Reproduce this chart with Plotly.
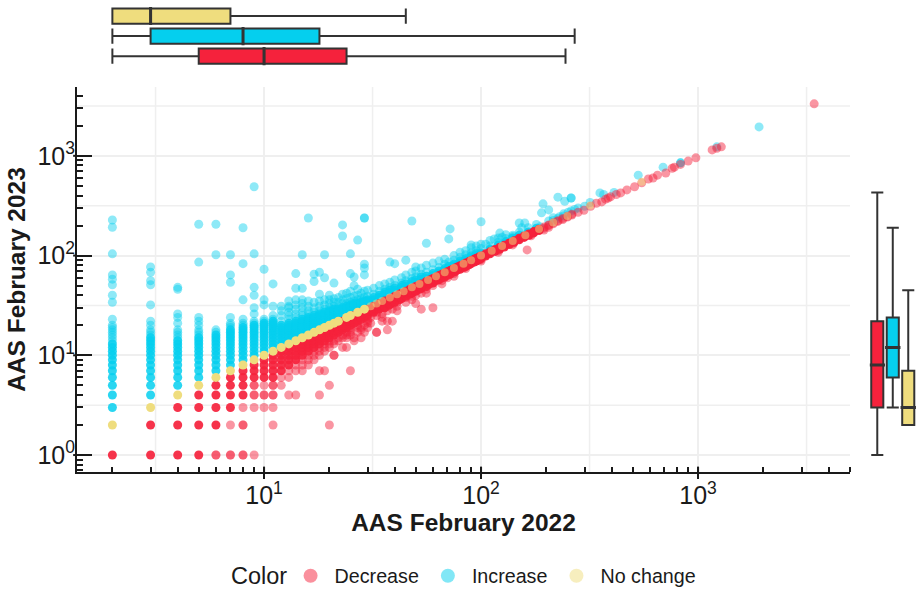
import plotly.graph_objects as go

# ---- Scatter values: {AAS 2022: [AAS 2023, ...]} ----
increase_dense = {
    2: [3, 4, 5, 6, 7, 8, 9, 10, 11, 12, 13],
    3: [4, 5, 6, 7, 8, 9, 10, 11, 12, 13, 14, 15],
    4: [5, 6, 7, 8, 9, 10, 11, 12, 13, 14],
    5: [6, 7, 8, 9, 10, 11, 12, 13, 14, 15],
    6: [7, 8, 9, 10, 11, 12, 13, 14, 15, 16],
    7: [8, 9, 10, 11, 12, 13, 14, 15, 16, 17, 18],
    8: [9, 10, 11, 12, 13, 14, 15, 16, 17, 18, 19],
    9: [10, 11, 12, 13, 14, 15, 16, 17, 18, 19, 20],
    10: [11, 12, 13, 14, 15, 16, 17, 18, 19, 20, 21],
    11: [12, 13, 14, 15, 16, 17, 18, 19, 20, 21, 22],
    12: [13, 14, 15, 16, 17, 18, 19, 20],
    13: [14, 15, 16, 17, 18, 19, 20, 21],
    14: [15, 16, 17, 18, 19, 20, 21, 22],
    15: [16, 17, 18, 19, 20, 21, 22, 23],
    16: [17, 18, 19, 20, 21, 22, 23, 24],
    17: [18, 19, 20, 21, 22, 23, 24, 25],
    18: [19, 20, 21, 22, 23, 24, 25, 26],
    19: [20, 21, 22, 23, 24, 25, 26, 27],
    20: [21, 22, 23, 24, 25, 26, 27, 28],
    21: [22, 23, 24, 25, 26, 27, 28, 29],
    22: [23, 24, 25, 26, 27, 28, 29],
    23: [24, 25, 26, 27, 28, 29, 30],
    24: [25, 26, 27, 28, 29, 30, 31],
    25: [26, 27, 28, 29, 30, 31, 32],
    26: [27, 28, 29, 30, 31, 32, 33],
    27: [28, 29, 30, 31, 32, 33],
    28: [29, 30, 31, 32, 33, 34],
    29: [30, 31, 32, 33, 34, 35],
    30: [31, 32, 33, 34, 35, 36],
    32: [33, 34, 35, 36, 38],
    34: [35, 36, 37, 38, 40],
    36: [37, 38, 39, 41, 43],
    38: [39, 40, 41, 43, 45],
    40: [41, 42, 43, 45, 47],
    43: [44, 45, 46, 48, 50],
    45: [46, 47, 49, 52],
    48: [49, 50, 52, 55],
    50: [51, 52, 54, 57],
    53: [54, 56, 58, 61],
    56: [57, 59, 62],
    60: [61, 63, 66],
    64: [65, 67, 70],
    68: [69, 71, 74],
    71: [72, 75, 78],
    75: [76, 79, 82],
    80: [81, 84, 88],
    85: [86, 89, 93],
    90: [91, 95, 99],
    95: [96, 100, 104],
    100: [102, 106],
    110: [112, 116],
    120: [122, 127],
    130: [132, 138],
    140: [143, 150],
    150: [152, 160],
    165: [167, 172],
    180: [182, 188],
}
increase_light = {
    2: [14, 15, 16, 17, 18, 19, 20, 23, 34, 40, 51, 58, 64, 104, 192, 227],
    3: [16, 17, 18, 20, 22, 32, 51, 56, 68, 77],
    4: [15, 16, 17, 18, 21, 24, 26, 46, 48],
    5: [16, 17, 18, 20, 22, 24, 86, 206],
    6: [17, 18, 102, 206],
    7: [19, 20, 21, 24, 54, 64, 102],
    8: [20, 21, 23, 36, 83, 190],
    9: [21, 22, 26, 30, 40, 48, 104, 490],
    10: [22, 23, 32, 36, 73],
    11: [23, 25, 31, 52],
    12: [22, 25, 28, 31],
    13: [23, 25, 27, 30, 31, 35],
    14: [24, 26, 29, 32, 36, 47, 66],
    15: [25, 27, 30, 33, 36, 47, 102],
    16: [26, 28, 31, 35, 238],
    17: [27, 30, 34, 55, 65],
    18: [28, 31, 35, 41, 68],
    19: [29, 32, 36, 60, 102],
    20: [30, 33, 36, 40],
    21: [31, 34, 37, 53],
    22: [31, 34, 38],
    23: [33, 36, 41, 157, 203],
    24: [33, 37, 42],
    25: [34, 38, 44, 66, 104],
    26: [35, 39, 50, 61],
    27: [36, 40, 46, 143],
    28: [37, 42],
    29: [38, 44, 64, 75, 82, 238, 238],
    30: [39, 45],
    32: [41, 47],
    34: [44, 50],
    36: [46, 52],
    38: [48, 54, 86],
    40: [50, 57, 83],
    43: [53, 60],
    45: [56, 64, 90],
    48: [59, 68, 222],
    50: [61, 70, 77],
    53: [65, 75],
    56: [68, 80, 133],
    60: [72, 84],
    64: [76, 88],
    68: [82, 92],
    71: [86, 147],
    72: [185],
    75: [90, 100],
    80: [96, 108],
    85: [102, 112],
    90: [106, 120, 128],
    95: [112, 125],
    100: [118, 130, 218],
    105: [130],
    110: [125, 142],
    115: [147],
    120: [136, 150],
    122: [168],
    125: [153],
    130: [148, 162],
    140: [155, 160],
    150: [172, 212],
    154: [190],
    159: [212],
    165: [190],
    180: [205],
    187: [194],
    190: [268],
    193: [330],
    205: [287, 222],
    215: [240, 225],
    226: [385, 235],
    230: [245],
    240: [262, 250],
    243: [350],
    252: [272],
    260: [378, 378, 280],
    270: [290],
    280: [300],
    300: [312],
    318: [340],
    353: [425],
    367: [410],
    410: [430],
    530: [640],
    690: [770],
    830: [850, 850],
    1220: [1230],
    1910: [1950],
}
decrease_dense = {
    2: [1],
    3: [1, 2],
    4: [1, 2, 3],
    5: [1, 2, 3, 4],
    6: [2, 3, 4, 5],
    7: [3, 4, 5, 6],
    8: [4, 5, 6, 7],
    9: [6, 7, 8],
    10: [6, 7, 8, 9],
    11: [6, 7, 8, 9, 10],
    12: [7, 8, 9, 10, 11],
    13: [8, 9, 10, 11, 12],
    14: [9, 10, 11, 12, 13],
    15: [10, 11, 12, 13, 14],
    16: [11, 12, 13, 14, 15],
    17: [12, 13, 14, 15, 16],
    18: [13, 14, 15, 16, 17],
    19: [14, 15, 16, 17, 18],
    20: [15, 16, 17, 18, 19],
    21: [16, 17, 18, 19, 20],
    22: [17, 18, 19, 20, 21],
    23: [18, 19, 20, 21, 22],
    24: [19, 20, 21, 22, 23],
    25: [20, 21, 22, 23, 24],
    26: [21, 22, 23, 24, 25],
    27: [22, 23, 24, 25, 26],
    28: [23, 24, 25, 26, 27],
    29: [24, 25, 26, 27, 28],
    30: [25, 26, 27, 28, 29],
    32: [27, 28, 29, 30, 31],
    34: [29, 30, 31, 32, 33],
    36: [30, 31, 33, 34, 35],
    38: [32, 33, 35, 36, 37],
    40: [34, 35, 37, 38, 39],
    42: [36, 38, 39, 40, 41],
    43: [37, 38, 40, 41, 42],
    45: [39, 40, 42, 43, 44],
    47: [41, 43, 44, 45, 46],
    48: [42, 43, 45, 46, 47],
    50: [44, 45, 47, 48, 49],
    52: [46, 48, 49, 50, 51],
    53: [47, 48, 50, 51, 52],
    56: [49, 51, 53, 54, 55],
    58: [52, 54, 55, 56, 57],
    60: [53, 55, 57, 58, 59],
    62: [56, 58, 59, 60, 61],
    64: [57, 59, 61, 62, 63],
    66: [60, 62, 63, 64, 65],
    68: [61, 63, 65, 66, 67],
    70: [64, 66, 67, 68, 69],
    72: [65, 67, 69, 70, 71],
    74: [68, 70, 71, 72, 73],
    76: [69, 71, 73, 74, 75],
    78: [72, 74, 75, 76, 77],
    80: [73, 75, 77, 78, 79],
    83: [76, 78, 80, 81, 82],
    85: [78, 80, 82, 83, 84],
    88: [81, 83, 85, 86, 87],
    90: [83, 85, 87, 88, 89],
    93: [86, 88, 90, 91, 92],
    95: [88, 90, 92, 93, 94],
    98: [91, 93, 95, 96, 97],
    100: [94, 96, 98, 99],
    105: [99, 102, 104],
    110: [104, 107, 109],
    116: [110, 113, 115],
    122: [116, 119, 121],
    128: [122, 125, 127],
    135: [129, 132, 134],
    142: [136, 139, 141],
    150: [144, 147, 149],
    158: [152, 155, 157],
    166: [160, 163, 165],
    175: [169, 172, 174],
    185: [178, 182, 184],
}
decrease_light = {
    6: [1, 1],
    7: [1, 1, 2],
    8: [1, 1, 2, 2, 3],
    9: [1, 3, 4, 4, 5, 5],
    10: [3, 4, 4, 5],
    11: [2, 3, 4, 4, 5, 5],
    12: [5, 6],
    13: [4, 6, 7],
    14: [4, 7, 8],
    15: [7, 8, 9],
    16: [8, 9, 10],
    17: [9, 10, 11],
    18: [4, 7, 10, 11, 12],
    19: [7, 11, 12, 13],
    20: [2, 5, 12, 13, 14],
    21: [10, 10, 13, 14],
    22: [14, 15],
    23: [12, 15, 16],
    24: [12, 15, 16, 17],
    25: [7, 16, 17, 18, 19],
    26: [14, 15],
    27: [17, 19, 20],
    28: [15, 18, 19],
    29: [17, 20],
    30: [19, 21, 22, 23],
    31: [21, 24],
    33: [17, 17, 25, 27],
    35: [22, 24, 26],
    37: [18, 22, 28, 31],
    39: [22, 29, 33],
    41: [28, 31, 34],
    45: [34, 38],
    48: [36, 39],
    50: [33, 40, 44],
    53: [29, 42, 47],
    56: [42, 46],
    60: [30, 50, 54],
    66: [52, 56],
    70: [60, 63],
    75: [62, 66],
    85: [74, 77],
    100: [88, 91],
    120: [108, 112],
    140: [128, 133],
    163: [114],
    170: [158, 162],
    195: [180, 188, 193],
    205: [192, 200, 203],
    215: [208, 213],
    226: [220, 224],
    238: [230, 236],
    250: [243, 248],
    262: [255, 260],
    280: [272],
    298: [285],
    320: [312],
    340: [335],
    360: [345],
    375: [368],
    385: [378],
    395: [388],
    420: [410],
    440: [425],
    470: [455],
    510: [490],
    550: [536],
    590: [585],
    620: [600],
    650: [640],
    710: [672],
    760: [750],
    778: [770],
    830: [820],
    900: [885],
    977: [955],
    1161: [1146],
    1220: [1190],
    1280: [1230],
    3428: [3320],
}
nochange_dense = [2, 3, 4, 5, 6, 7, 8, 9, 10, 11, 12, 13, 14, 15, 16, 17, 18, 19,
                  20, 21, 22, 24, 25, 27, 29]
nochange_light = [31, 33, 35, 38, 41, 44, 48, 52, 57, 62, 68, 75, 83, 90, 100, 112, 125,
                  140, 160, 185, 215, 250, 318, 550]

# ---- Marginal box summaries ----
box_groups = ["Decrease", "Increase", "No change"]
box_colors = ["#F5223C", "#05CFEE", "#EFDD7E"]
x_low = [2, 2, 2]
x_q1 = [5, 3, 2]
x_median = [10, 8, 3]
x_q3 = [24, 18, 7]
x_high = [245, 270, 45]
y_low = [1, 3, 2]
y_q1 = [3, 6, 2]
y_median = [8, 12, 3]
y_q3 = [22, 24, 7]
y_high = [430, 190, 45]

# ---- Axis labels ----
decade_vals = [1, 10, 100, 1000]
x_tick_vals = [10, 100, 1000]
x_tick_text = ["10<sup>1</sup>", "10<sup>2</sup>", "10<sup>3</sup>"]
y_tick_text = ["10<sup>0</sup>", "10<sup>1</sup>", "10<sup>2</sup>", "10<sup>3</sup>"]
half_decades = [3.162, 31.62, 316.2, 3162]

INK = "#1a1a1a"
GRID = "#efefef"
FONT = "Liberation Sans"


def flatten(columns):
    xs, ys = [], []
    for key, vals in columns.items():
        for v in vals:
            xs.append(key)
            ys.append(v)
    return xs, ys


fig = go.Figure()


def add_points(columns, color, opacity):
    xs, ys = flatten(columns)
    fig.add_trace(go.Scatter(x=xs, y=ys, mode="markers", showlegend=False, hoverinfo="skip",
                             marker=dict(size=9, color=color, opacity=opacity, line=dict(width=0))))


add_points(increase_light, box_colors[1], 0.45)
add_points(increase_dense, box_colors[1], 0.85)
add_points(decrease_light, box_colors[0], 0.48)
add_points(decrease_dense, box_colors[0], 0.92)
fig.add_trace(go.Scatter(x=nochange_light, y=nochange_light, mode="markers", showlegend=False,
                         hoverinfo="skip", marker=dict(size=8, color=box_colors[2], opacity=0.5, line=dict(width=0))))
fig.add_trace(go.Scatter(x=nochange_dense, y=nochange_dense, mode="markers", showlegend=False,
                         hoverinfo="skip", marker=dict(size=9, color=box_colors[2], opacity=1, line=dict(width=0))))

# legend entries
for name, color in zip(box_groups, box_colors):
    fig.add_trace(go.Scatter(x=[None], y=[None], mode="markers", name=name,
                             marker=dict(size=14, color=color, opacity=0.5, line=dict(width=0))))

# marginal boxes
for i, (name, color) in enumerate(zip(box_groups, box_colors)):
    fig.add_trace(go.Box(orientation="h", y=[name], xaxis="x2", yaxis="y2", q1=[x_q1[i]], median=[x_median[i]],
                         q3=[x_q3[i]], lowerfence=[x_low[i]], upperfence=[x_high[i]], width=0.76, whiskerwidth=1,
                         fillcolor=color, line=dict(color="#333333", width=2), showlegend=False, hoverinfo="skip"))
    fig.add_trace(go.Scatter(x=[x_median[i]], y=[name], xaxis="x2", yaxis="y2", mode="markers", showlegend=False,
                             hoverinfo="skip", marker=dict(symbol="line-ns", size=13,
                                                            line=dict(color="#333333", width=3))))
    fig.add_trace(go.Box(x=[name], xaxis="x3", yaxis="y3", q1=[y_q1[i]], median=[y_median[i]],
                         q3=[y_q3[i]], lowerfence=[y_low[i]], upperfence=[y_high[i]], width=0.78, whiskerwidth=1,
                         fillcolor=color, line=dict(color="#333333", width=2), showlegend=False, hoverinfo="skip"))
    fig.add_trace(go.Scatter(x=[name], y=[y_median[i]], xaxis="x3", yaxis="y3", mode="markers", showlegend=False,
                             hoverinfo="skip", marker=dict(symbol="line-ew", size=11,
                                                            line=dict(color="#333333", width=3))))

shapes = []
for v in half_decades:
    shapes.append(dict(type="line", layer="below", xref="x", yref="y domain", x0=v, x1=v, y0=0, y1=1,
                       line=dict(color=GRID, width=1.5)))
    shapes.append(dict(type="line", layer="below", xref="x domain", yref="y", x0=0, x1=1, y0=v, y1=v,
                       line=dict(color=GRID, width=1.5)))
for v in x_tick_vals:
    shapes.append(dict(type="line", xref="x", yref="y domain", x0=v, x1=v, y0=0, y1=0.014,
                       line=dict(color=INK, width=2)))
for v in decade_vals:
    shapes.append(dict(type="line", xref="x domain", yref="y", x0=-0.005, x1=0, y0=v, y1=v,
                       line=dict(color=INK, width=2)))

tick_font = dict(family=FONT, size=25, color=INK)
fig.update_layout(
    width=919, height=589, margin=dict(l=77, r=2, t=5, b=117, autoexpand=False),
    paper_bgcolor="white", plot_bgcolor="white",
    font=dict(family=FONT, color=INK),
    shapes=shapes, boxmode="overlay",
    xaxis=dict(type="log", range=[0.138, 3.70], domain=[0, 0.9202], anchor="y",
               tickmode="array", tickvals=x_tick_vals, ticktext=x_tick_text, tickfont=tick_font,
               ticks="outside", ticklen=5, tickwidth=2, tickcolor=INK, ticklabelstandoff=-5,
               minor=dict(ticks="inside", ticklen=5, tickwidth=2, tickcolor=INK, dtick="D1", showgrid=False),
               showline=True, linecolor=INK, linewidth=2, showgrid=True, gridcolor=GRID, gridwidth=2,
               zeroline=False, title=dict(text="<b>AAS February 2022</b>", font=dict(family=FONT, size=24.5, color=INK), standoff=0)),
    yaxis=dict(type="log", range=[-0.17, 3.69], domain=[0, 0.8244], anchor="x",
               tickmode="array", tickvals=decade_vals, ticktext=y_tick_text, tickfont=tick_font,
               ticks="inside", ticklen=15, tickwidth=2, tickcolor=INK, ticklabelstandoff=-5,
               minor=dict(ticks="inside", ticklen=6, tickwidth=2, tickcolor=INK, dtick="D1", showgrid=False),
               showline=True, linecolor=INK, linewidth=2, showgrid=True, gridcolor=GRID, gridwidth=2,
               zeroline=False, title=dict(text="<b>AAS February 2023</b>", font=dict(family=FONT, size=24.5, color=INK), standoff=5)),
    xaxis2=dict(type="log", matches="x", domain=[0, 0.9202], anchor="y2", visible=False),
    yaxis2=dict(domain=[0.869, 0.9979], anchor="x2", visible=False, type="category",
                categoryorder="array", categoryarray=box_groups, range=[-0.5, 2.5]),
    xaxis3=dict(domain=[0.9435, 0.9988], anchor="y3", visible=False, type="category",
                categoryorder="array", categoryarray=box_groups, range=[-0.5, 2.5]),
    yaxis3=dict(type="log", matches="y", domain=[0, 0.8244], anchor="x3", visible=False),
    legend=dict(orientation="h", x=0.2495, xanchor="left", y=-0.2227, yanchor="middle", itemwidth=38,
                font=dict(family=FONT, size=19.7, color=INK), bgcolor="rgba(0,0,0,0)"),
    annotations=[dict(text="Color", xref="paper", yref="paper", x=0.1806, y=-0.2227, xanchor="left",
                      yanchor="middle", showarrow=False,
                      font=dict(family=FONT, size=23.5, color=INK))],
)
fig.write_html("out.html", post_script="document.body.style.margin='0';",
               config={"displayModeBar": False})
